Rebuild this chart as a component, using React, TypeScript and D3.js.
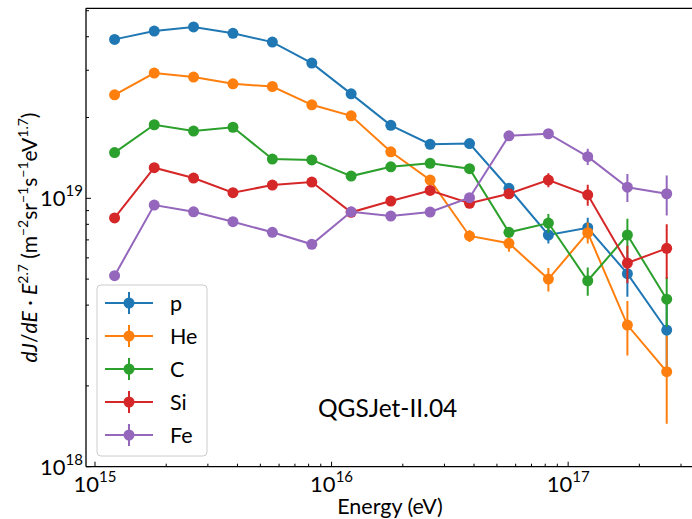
import React from "react";
import * as d3 from "d3";

const energies = [1.21e15, 1.78e15, 2.61e15, 3.83e15, 5.62e15, 8.25e15, 1.21e16, 1.78e16, 2.61e16, 3.83e16, 5.62e16, 8.25e16, 1.21e17, 1.78e17, 2.61e17];

const pVals = [3.91e19, 4.2e19, 4.35e19, 4.12e19, 3.82e19, 3.19e19, 2.45e19, 1.87e19, 1.59e19, 1.6e19, 1.09e19, 7.3e18, 7.77e18, 5.24e18, 3.23e18];
const heVals = [2.43e19, 2.93e19, 2.83e19, 2.67e19, 2.61e19, 2.23e19, 2.03e19, 1.49e19, 1.17e19, 7.24e18, 6.8e18, 5.0e18, 7.45e18, 3.37e18, 2.26e18];
const cVals = [1.48e19, 1.88e19, 1.78e19, 1.84e19, 1.4e19, 1.39e19, 1.21e19, 1.31e19, 1.35e19, 1.29e19, 7.47e18, 8.09e18, 4.93e18, 7.3e18, 4.21e18];
const siVals = [8.45e18, 1.3e19, 1.19e19, 1.05e19, 1.12e19, 1.15e19, 8.87e18, 9.77e18, 1.07e19, 9.58e18, 1.04e19, 1.17e19, 1.03e19, 5.74e18, 6.51e18];
const feVals = [5.15e18, 9.44e18, 8.91e18, 8.18e18, 7.47e18, 6.74e18, 8.91e18, 8.59e18, 8.89e18, 1.005e19, 1.71e19, 1.74e19, 1.43e19, 1.1e19, 1.04e19];

// relative uncertainties
const pErr = [0.005, 0.005, 0.005, 0.005, 0.006, 0.007, 0.008, 0.01, 0.02, 0.03, 0.04, 0.07, 0.09, 0.18, 0.3];
const heErr = [0.005, 0.005, 0.005, 0.006, 0.007, 0.008, 0.01, 0.015, 0.03, 0.05, 0.07, 0.1, 0.09, 0.23, 0.36];
const cErr = [0.006, 0.006, 0.006, 0.007, 0.008, 0.01, 0.012, 0.015, 0.02, 0.03, 0.04, 0.08, 0.12, 0.15, 0.21];
const siErr = [0.008, 0.008, 0.008, 0.009, 0.01, 0.012, 0.014, 0.016, 0.02, 0.03, 0.04, 0.06, 0.09, 0.16, 0.23];
const feErr = [0.01, 0.01, 0.01, 0.01, 0.012, 0.014, 0.016, 0.018, 0.02, 0.03, 0.03, 0.04, 0.07, 0.12, 0.17];

const seriesNames = ["p", "He", "C", "Si", "Fe"];
const seriesColors = ["#1f77b4", "#ff7f0e", "#2ca02c", "#d62728", "#9467bd"];
const seriesValues = [pVals, heVals, cVals, siVals, feVals];
const seriesErrors = [pErr, heErr, cErr, siErr, feErr];

const xTickLabels = [1e15, 1e16, 1e17];
const yTickLabels = [1e18, 1e19];
const annotation = "QGSJet-II.04";

const W = 692;
const H = 519;
const left = 86;
const right = 694;
const top = 8.3;
const bottom = 466.7;
const FONT = "Lato, 'DejaVu Sans', sans-serif";

export default function App() {
  const x = d3.scaleLog().domain([Math.pow(10, 14.962), Math.pow(10, 17.532)]).range([left, right]);
  const y = d3.scaleLog().domain([1e18, Math.pow(10, 19.708)]).range([bottom, top]);

  const line = d3
    .line<number>()
    .x((_, i) => x(energies[i]))
    .y((d) => y(d));

  const xMinor: number[] = [];
  for (let e = 15; e <= 17; e++) for (let m = 1; m <= 9; m++) {
    const v = m * Math.pow(10, e);
    if (x(v) >= left && x(v) <= W) xMinor.push(v);
  }
  const yMinor: number[] = [];
  for (let e = 18; e <= 19; e++) for (let m = 1; m <= 9; m++) {
    const v = m * Math.pow(10, e);
    if (y(v) >= top - 0.5 && y(v) <= bottom + 0.5) yMinor.push(v);
  }
  const exp = (v: number) => Math.round(Math.log10(v));

  const legX = 97, legY = 285, legW = 110, legH = 171;

  return (
    <div style={{ position: "absolute", left: 0, top: 0 }}>
      <svg width={W} height={H} style={{ display: "block", background: "#fff" }}>
        <defs>
          <clipPath id="plotclip">
            <rect x={left} y={top} width={right - left} height={bottom - top} />
          </clipPath>
        </defs>
        <rect x={0} y={0} width={W} height={H} fill="#fff" />

        <g clipPath="url(#plotclip)">
          {seriesValues.map((vals, si) => (
            <g key={seriesNames[si]}>
              {vals.map((v, i) => {
                const err = v * seriesErrors[si][i];
                return (
                  <line
                    key={i}
                    x1={x(energies[i])}
                    x2={x(energies[i])}
                    y1={y(v + err)}
                    y2={y(Math.max(v - err, 1e17))}
                    stroke={seriesColors[si]}
                    strokeWidth={2}
                  />
                );
              })}
              <path d={line(vals) || ""} fill="none" stroke={seriesColors[si]} strokeWidth={2} />
              {vals.map((v, i) => (
                <circle key={i} cx={x(energies[i])} cy={y(v)} r={5.5} fill={seriesColors[si]} />
              ))}
            </g>
          ))}
        </g>

        {/* spines */}
        <line x1={left} x2={left} y1={top} y2={bottom} stroke="#000" strokeWidth={1.3} />
        <line x1={left} x2={right} y1={bottom} y2={bottom} stroke="#000" strokeWidth={1.3} />
        <line x1={left} x2={right} y1={top} y2={top} stroke="#000" strokeWidth={1.3} />
        <line x1={right} x2={right} y1={top} y2={bottom} stroke="#000" strokeWidth={1.3} />

        {/* ticks */}
        {xMinor.map((v) => {
          const major = xTickLabels.includes(v);
          return (
            <line key={"xt" + v} x1={x(v)} x2={x(v)} y1={bottom} y2={bottom - (major ? 5 : 3)} stroke="#000" strokeWidth={1} />
          );
        })}
        {yMinor.map((v) => {
          const major = yTickLabels.includes(v);
          return (
            <line key={"yt" + v} x1={left} x2={left + (major ? 5 : 3)} y1={y(v)} y2={y(v)} stroke="#000" strokeWidth={1} />
          );
        })}

        {xTickLabels.map((v) => (
          <text key={"xl" + v} x={x(v)} y={492} textAnchor="middle" fontFamily={FONT} fontSize={22} fill="#000">
            10<tspan dy={-10} fontSize={15}>{exp(v)}</tspan>
          </text>
        ))}
        {yTickLabels.map((v) => (
          <text key={"yl" + v} x={83} y={y(v) + 8} textAnchor="end" fontFamily={FONT} fontSize={22} fill="#000">
            10<tspan dy={-10} fontSize={15}>{exp(v)}</tspan>
          </text>
        ))}

        <text x={(left + right) / 2} y={514} textAnchor="middle" fontFamily={FONT} fontSize={21.5} fill="#000">
          Energy (eV)
        </text>

        <text
          transform={`translate(37, ${(top + bottom) / 2}) rotate(-90)`}
          textAnchor="middle"
          fontFamily={FONT}
          fontSize={21}
          fill="#000"
        >
          <tspan fontStyle="italic">dJ</tspan>
          <tspan>/</tspan>
          <tspan fontStyle="italic">dE</tspan>
          <tspan> · </tspan>
          <tspan fontStyle="italic">E</tspan>
          <tspan dy={-9} fontSize={14}>2.7</tspan>
          <tspan dy={9}> (m</tspan>
          <tspan dy={-9} fontSize={14}>−2</tspan>
          <tspan dy={9}>sr</tspan>
          <tspan dy={-9} fontSize={14}>−1</tspan>
          <tspan dy={9}>s</tspan>
          <tspan dy={-9} fontSize={14}>−1</tspan>
          <tspan dy={9}>eV</tspan>
          <tspan dy={-9} fontSize={14}>1.7</tspan>
          <tspan dy={9}>)</tspan>
        </text>

        <text x={318} y={417} fontFamily={FONT} fontSize={24.5} fill="#000">
          {annotation}
        </text>

        {/* legend */}
        <rect x={legX} y={legY} width={legW} height={legH} rx={4} fill="#fff" fillOpacity={0.8} stroke="#cccccc" strokeWidth={1} />
        {seriesNames.map((name, i) => {
          const cy = legY + 18 + i * 33;
          return (
            <g key={"leg" + name}>
              <line x1={105} x2={153} y1={cy} y2={cy} stroke={seriesColors[i]} strokeWidth={2} />
              <line x1={129} x2={129} y1={cy - 11} y2={cy + 11} stroke={seriesColors[i]} strokeWidth={2} />
              <circle cx={129} cy={cy} r={5.5} fill={seriesColors[i]} />
              <text x={170} y={cy + 8} fontFamily={FONT} fontSize={21.5} fill="#000">
                {name}
              </text>
            </g>
          );
        })}
      </svg>
    </div>
  );
}
